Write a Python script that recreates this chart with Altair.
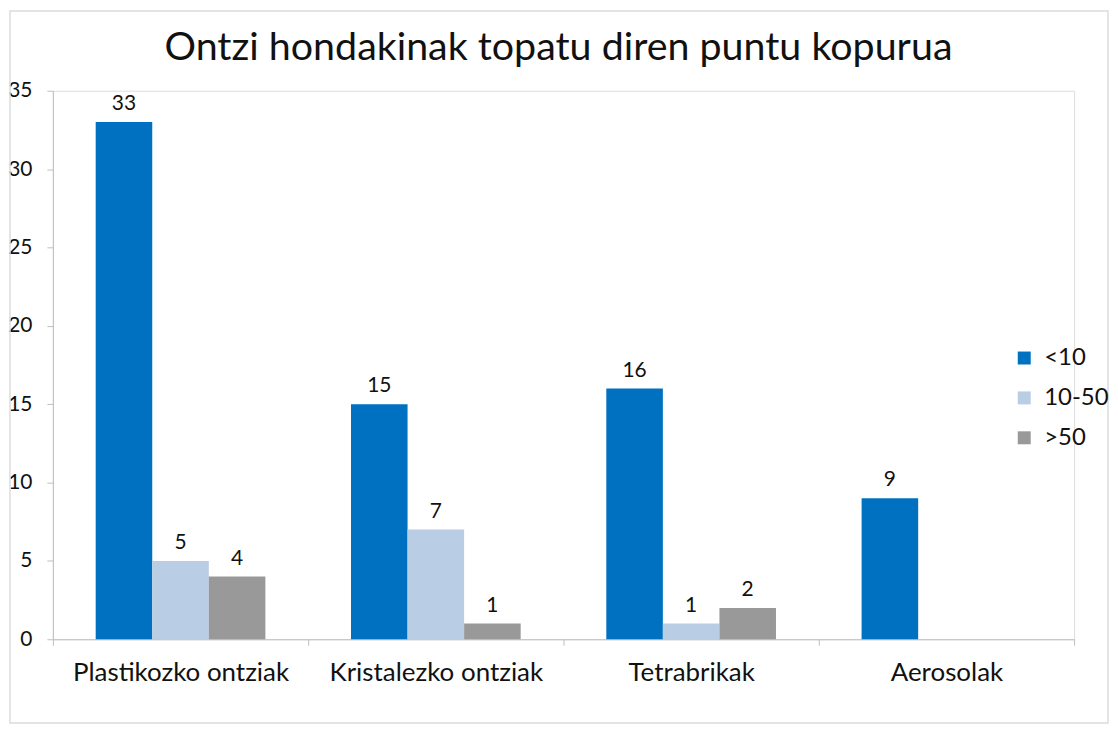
import altair as alt
import pandas as pd

categories = ["Plastikozko ontziak", "Kristalezko ontziak", "Tetrabrikak", "Aerosolak"]
series = ["<10", "10-50", ">50"]
v_lt10 = [33, 15, 16, 9]
v_10_50 = [5, 7, 1, None]
v_gt50 = [4, 1, 2, None]
colors = ["#0070C0", "#B9CDE5", "#999999"]
y_ticks = [0, 5, 10, 15, 20, 25, 30, 35]

rows = []
for s, vals in zip(series, [v_lt10, v_10_50, v_gt50]):
    for c, v in zip(categories, vals):
        if v is not None:
            rows.append({"kategoria": c, "taldea": s, "balioa": v})
df = pd.DataFrame(rows)

FONT = "Lato"

x = alt.X(
    "kategoria:N",
    sort=categories,
    scale=alt.Scale(paddingInner=0, paddingOuter=0),
    axis=alt.Axis(
        title=None, labelAngle=0, tickBand="extent", tickSize=6,
        tickColor="#bfbfbf", domainColor="#bfbfbf", labelFont=FONT,
        labelFontSize=26, labelColor="#111111", labelPadding=14,
        labelLimit=400,
    ),
)
xoff = alt.XOffset(
    "taldea:N", sort=series,
    scale=alt.Scale(domain=series, paddingInner=0, paddingOuter=0.757),
)
y = alt.Y(
    "balioa:Q",
    scale=alt.Scale(domain=[0, 35], nice=False),
    axis=alt.Axis(
        title=None, values=y_ticks, grid=False, tickSize=6,
        tickColor="#bfbfbf", domainColor="#bfbfbf", labelFont=FONT,
        labelFontSize=21, labelColor="#111111", labelPadding=15,
    ),
)
color = alt.Color(
    "taldea:N", sort=series,
    scale=alt.Scale(domain=series, range=colors),
    legend=alt.Legend(
        title=None, orient="none", legendX=962, legendY=256,
        symbolType="square", symbolSize=169, symbolStrokeWidth=0,
        labelFont=FONT, labelFontSize=24, labelColor="#111111",
        rowPadding=16, labelOffset=8,
    ),
)

# faint outer frame of the chart (decoration only)
frame = alt.Chart(pd.DataFrame({"f": [0]})).mark_rect(
    fill=None, stroke="#dcdcdc", strokeWidth=1.5
).encode(x=alt.value(-43), x2=alt.value(1058), y=alt.value(-80), y2=alt.value(634))

bars = alt.Chart(df).mark_bar(stroke=None).encode(x=x, xOffset=xoff, y=y, color=color)
labels = alt.Chart(df).mark_text(
    font=FONT, fontSize=21, color="#111111", baseline="alphabetic", dy=-12
).encode(x=x, xOffset=xoff, y=y, text="balioa:Q")

chart = (
    alt.layer(frame, bars, labels)
    .properties(
        width=1024,
        height=550,
        title=alt.TitleParams(
            "Ontzi hondakinak topatu diren puntu kopurua",
            font=FONT, fontSize=39.5, fontWeight="normal", color="#111111",
            anchor="middle", offset=-58, dx=-5,
        ),
        autosize=alt.AutoSizeParams(type="none"),
        padding={"left": 45, "top": 82, "right": 36, "bottom": 85},
    )
    .configure_view(stroke=None)
    .configure(background="white")
)

chart.save("out.html", embed_options={"renderer": "svg", "actions": False})
